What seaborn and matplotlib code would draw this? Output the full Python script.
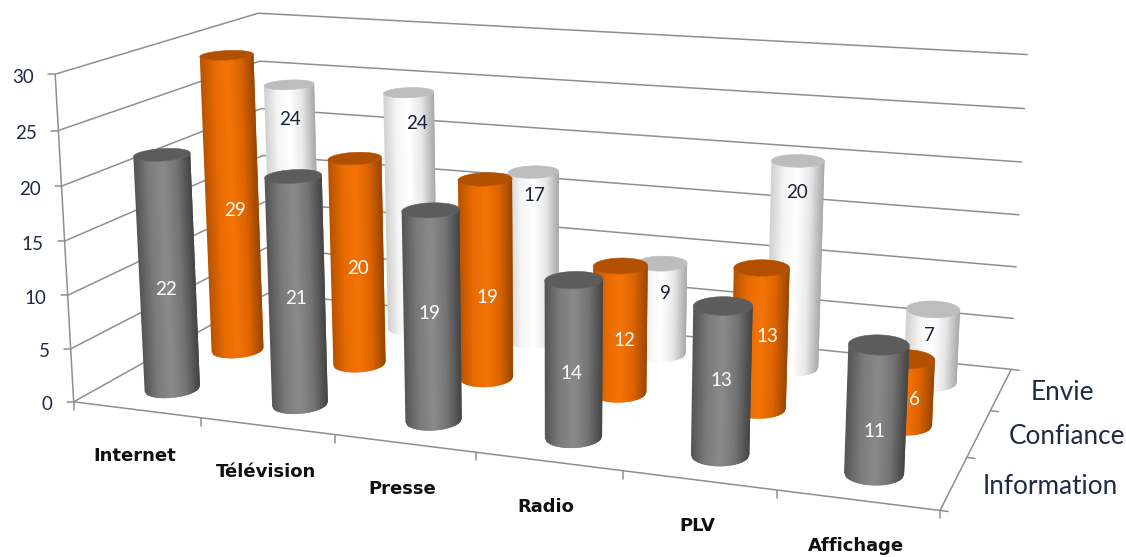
import numpy as np
import matplotlib
matplotlib.use("Agg")
import matplotlib.pyplot as plt
from matplotlib.collections import PolyCollection
from matplotlib.patches import Polygon
import seaborn as sns

# data
categories = ["Internet", "Télévision", "Presse", "Radio", "PLV", "Affichage"]
series_names = ["Information", "Confiance", "Envie"]
information = [22, 21, 19, 14, 13, 11]
confiance = [29, 20, 19, 12, 13, 6]
envie = [24, 24, 17, 9, 20, 7]
value_ticks = [0, 5, 10, 15, 20, 25, 30]

# labels were moved by hand on the original, so keep the height they sit at
information_label_z = [9.5, 9.85, 9.8, 5.7, 6.5, 3.6]
confiance_label_z = [14.0, 9.4, 7.8, 5.0, 6.7, 2.3]
envie_label_z = [20.5, 20.9, 14.7, 6, 17, 4.5]
# and their sideways shift in pixels
information_label_dx = [-2, -1, -3, -2, 0, -1]
confiance_label_dx = [3, 1, 1, 4, 7, 10]
envie_label_dx = [0, 8, 1, 4, 0, -3]

sns.set_theme(style="white")
plt.rcParams["font.family"] = ["Lato", "DejaVu Sans"]

W, H = 1126, 557

# Step 1: camera, fitted on the corners of the box (category, depth, value -> pixel)
world = np.array([
    (0, 0, 30), (0, 0, 15), (0, 0, 0), (1, 0, 0), (2, 0, 0), (6, 0, 0), (6, 1, 0),
    (6, 2, 0), (6, 3, 0), (6, 3, 15), (6, 3, 30), (0, 3, 30), (0, 3, 25),
], dtype=float)
screen = np.array([
    (55, 74), (65, 241), (74, 402), (202, 418), (334, 435), (937, 510), (970, 457),
    (993, 411), (1009, 369), (1019, 215), (1028, 55), (259, 13), (259, 61),
], dtype=float)

rows = []
for (a, b, c), (u, v) in zip(world, screen):
    rows.append([a, b, c, 1, 0, 0, 0, 0, -u * a, -u * b, -u * c, -u])
    rows.append([0, 0, 0, 0, a, b, c, 1, -v * a, -v * b, -v * c, -v])
camera = np.linalg.svd(np.array(rows))[2][-1].reshape(3, 4)


def project(a, b, c):
    a, b, c = np.broadcast_arrays(a, b, c)
    p = camera @ np.vstack([a.ravel(), b.ravel(), c.ravel(), np.ones(a.size)])
    return np.column_stack([p[0] / p[2], p[1] / p[2]])


fig = plt.figure(figsize=(W / 100, H / 100), dpi=100)
ax = fig.add_axes([0, 0, 1, 1])
ax.set_xlim(0, W)
ax.set_ylim(H, 0)
ax.axis("off")

GRID = "#8f8f8f"


def line3d(start, end, lw=1.1):
    pts = project(*np.array([start, end]).T)
    ax.plot(pts[:, 0], pts[:, 1], color=GRID, lw=lw, zorder=1, solid_capstyle="butt")


# Step 2: walls and floor
for v in value_ticks:
    line3d((0, 0, v), (0, 3, v))
    line3d((0, 3, v), (6, 3, v))
    x0, y0 = project(0, 0, v)[0]
    ax.plot([x0 - 7, x0], [y0, y0], color=GRID, lw=1.1, zorder=1)
    ax.text(x0 - 21, y0 + 3, str(v), ha="right", va="center", fontsize=13.5, color="#1f2a44")
line3d((0, 0, 0), (0, 0, 30))
line3d((0, 0, 0), (6, 0, 0))
line3d((6, 0, 0), (6, 3, 0))

for i in range(7):
    x0, y0 = project(i, 0, 0)[0]
    ax.plot([x0, x0], [y0, y0 + 8], color=GRID, lw=1.1, zorder=1)
for j in range(4):
    x0, y0 = project(6, j, 0)[0]
    ax.plot([x0, x0 + 8], [y0, y0 + 1], color=GRID, lw=1.1, zorder=1)

# Step 3: category and series labels
for i, name in enumerate(categories):
    x0, y0 = project(i + 0.5, 0, 0)[0]
    ax.text(x0 - 2, y0 + 46, name, ha="center", va="center", fontsize=13,
            fontweight="bold", color="#111111", family=["DejaVu Sans"])
for j, name in enumerate(series_names):
    x0, y0 = project(6, j + 0.5, 0)[0]
    ax.text(x0 + 29 + j * 0.5, y0 + 3, name, ha="left", va="center", fontsize=18.8, color="#1f2a44")

# Step 4: cylinders, back row first
STRIPS = 36
ramps = {
    "Information": sns.blend_palette(["#565656", "#7b7b7b", "#8a8a8a", "#757575", "#464646"], STRIPS),
    "Confiance": sns.blend_palette(["#b85400", "#e86a02", "#f47408", "#e06500", "#9c4700"], STRIPS),
    "Envie": sns.blend_palette(["#d2d2d2", "#f6f6f6", "#ffffff", "#e8e8e8", "#ababab"], STRIPS),
}
cap_colors = {"Information": "#5c5c5c", "Confiance": "#b35000", "Envie": "#bdbdbd"}
text_colors = {"Information": "white", "Confiance": "white", "Envie": "#1a2238"}

RX, RD = 0.185, 0.22
angles = np.linspace(0, 2 * np.pi, 361)
values = {"Information": information, "Confiance": confiance, "Envie": envie}
label_z = {"Information": information_label_z, "Confiance": confiance_label_z, "Envie": envie_label_z}
label_dx = {"Information": information_label_dx, "Confiance": confiance_label_dx, "Envie": envie_label_dx}


def resample(points, pos):
    # points along the arc, at fractional positions
    idx = np.arange(len(points))
    return np.column_stack([np.interp(pos, idx, points[:, 0]), np.interp(pos, idx, points[:, 1])])


order = 10
for j in [2, 1, 0]:
    name = series_names[j]
    for i, val in enumerate(values[name]):
        cx, cd = i + 0.5, j + 0.5
        top = project(cx + RX * np.cos(angles), cd + RD * np.sin(angles), val)
        bottom = project(cx + RX * np.cos(angles), cd + RD * np.sin(angles), 0)
        lo, hi = top[:-1, 0].argmin(), top[:-1, 0].argmax()
        # front arc: from the leftmost point round to the rightmost, near side
        arc = np.arange(lo, hi + 360 + 1) % 360 if hi < lo else np.arange(lo, hi + 1)
        top_arc, bottom_arc = top[arc], bottom[arc]

        # strips of equal screen width; each runs on under the next one so no seams show
        frac = (top_arc[:, 0] - top_arc[0, 0]) / (top_arc[-1, 0] - top_arc[0, 0])
        pos = np.interp(np.linspace(0, 1, STRIPS + 1), frac, np.arange(len(arc)))
        t, b = resample(top_arc, pos), resample(bottom_arc, pos)
        polys = []
        for k in range(STRIPS):
            end = min(k + 2, STRIPS)
            polys.append([t[k], t[k + 1], t[end], b[end], b[k + 1], b[k]])
        body = PolyCollection(polys, facecolors=ramps[name], edgecolors="none", zorder=order)
        body.set_snap(False)
        ax.add_collection(body)
        ax.add_patch(Polygon(top, closed=True, facecolor=cap_colors[name],
                             edgecolor=cap_colors[name], lw=0.4, zorder=order + 1))
        lx, ly = project(cx, cd, label_z[name][i])[0]
        ax.text(lx + label_dx[name][i], ly, str(val), ha="center", va="center", fontsize=13.5,
                color=text_colors[name], zorder=100 + order)
        order += 2

fig.savefig("out.png", dpi=100)
